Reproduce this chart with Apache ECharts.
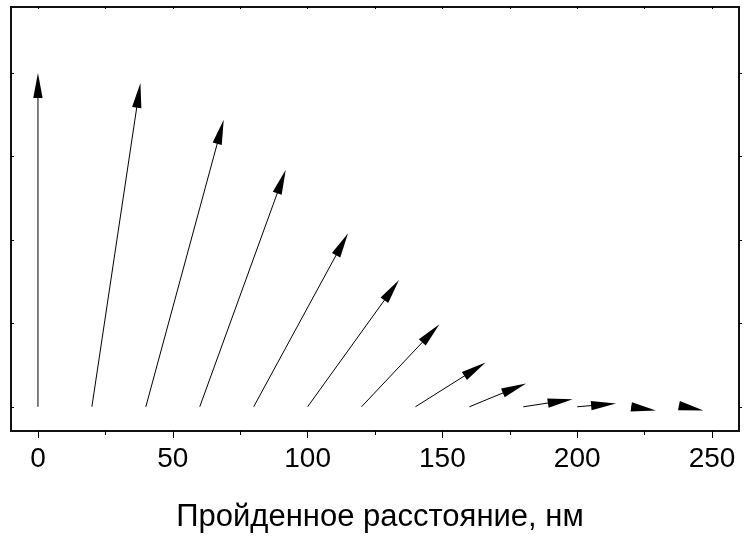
<!DOCTYPE html>
<html>
<head>
<meta charset="utf-8">
<script src="https://cdn.jsdelivr.net/npm/echarts@6/dist/echarts.min.js"></script>
<style>
  html, body { margin: 0; padding: 0; background: #fff; }
  #chart { width: 744px; height: 542px; }
</style>
</head>
<body>
<div id="chart"></div>
<script>
// Vector field along the travelled path: each arrow starts on the baseline
const xStart = [0, 20, 40, 60, 80, 100, 120, 140, 160, 180, 200, 220, 240];
const yStart = [0, 0, 0, 0, 0, 0, 0, 0, 0, 0, 0, 0, 0];
const xTip = [0, 38.0, 68.9, 91.9, 115.0, 133.9, 148.9, 166.0, 181.0, 198.3, 214.4, 229.2, 246.8];
const yTip = [4.0, 3.88, 3.44, 2.84, 2.08, 1.52, 0.99, 0.53, 0.28, 0.09, 0.04, -0.045, -0.045];

const xMajorTicks = [0, 50, 100, 150, 200, 250];
const xMinorTicks = [25, 75, 125, 175, 225];
const xTopTicks = [0, 25, 50, 75, 100, 125, 150, 175, 200, 225, 250];
const yTicks = [0, 1, 2, 3, 4];

const xTitle = 'Пройденное расстояние, нм';
const FONT = '"Liberation Sans", Arial, Helvetica, sans-serif';

const arrowData = xStart.map((x, i) => [x, yStart[i], xTip[i], yTip[i]]);

function renderArrow(params, api) {
  const p0 = api.coord([api.value(0), api.value(1)]);
  const p1 = api.coord([api.value(2), api.value(3)]);
  const dx = p1[0] - p0[0], dy = p1[1] - p0[1];
  const len = Math.sqrt(dx * dx + dy * dy) || 1;
  const ux = dx / len, uy = dy / len;
  const headLen = 25, headHalf = 4.7;
  const bx = p1[0] - ux * headLen, by = p1[1] - uy * headLen;
  const nx = -uy, ny = ux;
  return {
    type: 'group',
    children: [
      {
        type: 'line',
        shape: { x1: p0[0], y1: p0[1], x2: bx + ux * 2, y2: by + uy * 2 },
        style: { stroke: '#000', lineWidth: 1 }
      },
      {
        type: 'polygon',
        shape: {
          points: [
            [p1[0], p1[1]],
            [bx + nx * headHalf, by + ny * headHalf],
            [bx - nx * headHalf, by - ny * headHalf]
          ]
        },
        style: { fill: '#000' }
      }
    ]
  };
}

function tickAxis(extra) {
  return Object.assign({
    type: 'value',
    axisLine: { show: false, onZero: false },
    splitLine: { show: false },
    axisLabel: { show: false }
  }, extra);
}

const chart = echarts.init(document.getElementById('chart'), null, { renderer: 'canvas' });
chart.setOption({
  animation: false,
  backgroundColor: '#fff',
  grid: {
    left: 11, top: 7, right: 5, bottom: 111,
    show: true, borderColor: '#111', borderWidth: 2, backgroundColor: 'transparent'
  },
  xAxis: [
    tickAxis({
      min: -10, max: 260, position: 'bottom',
      axisTick: { show: true, inside: false, length: 7, customValues: xMajorTicks, lineStyle: { color: '#000', width: 1 } },
      axisLabel: { show: true, customValues: xMajorTicks, margin: 14, fontSize: 28, fontFamily: FONT, color: '#000' },
      name: xTitle,
      nameLocation: 'middle',
      nameGap: 71,
      nameTextStyle: { fontSize: 31, fontFamily: FONT, color: '#000', padding: [0, 0, 0, 10] }
    }),
    tickAxis({
      min: -10, max: 260, position: 'bottom',
      axisTick: { show: true, inside: false, length: 4, customValues: xMinorTicks, lineStyle: { color: '#000', width: 1 } }
    }),
    tickAxis({
      min: -10, max: 260, position: 'top',
      axisTick: { show: true, inside: true, length: 2, customValues: xTopTicks, lineStyle: { color: '#000', width: 1 } }
    })
  ],
  yAxis: [
    tickAxis({
      min: -0.29, max: 4.79, position: 'left',
      axisTick: { show: true, inside: true, length: 3, customValues: yTicks, lineStyle: { color: '#000', width: 1 } }
    }),
    tickAxis({
      min: -0.29, max: 4.79, position: 'right',
      axisTick: { show: true, inside: false, length: 3, customValues: yTicks, lineStyle: { color: '#000', width: 1 } }
    })
  ],
  series: [
    {
      type: 'custom',
      xAxisIndex: 0,
      yAxisIndex: 0,
      clip: false,
      encode: { x: [0, 2], y: [1, 3] },
      renderItem: renderArrow,
      data: arrowData
    }
  ]
});
</script>
</body>
</html>
